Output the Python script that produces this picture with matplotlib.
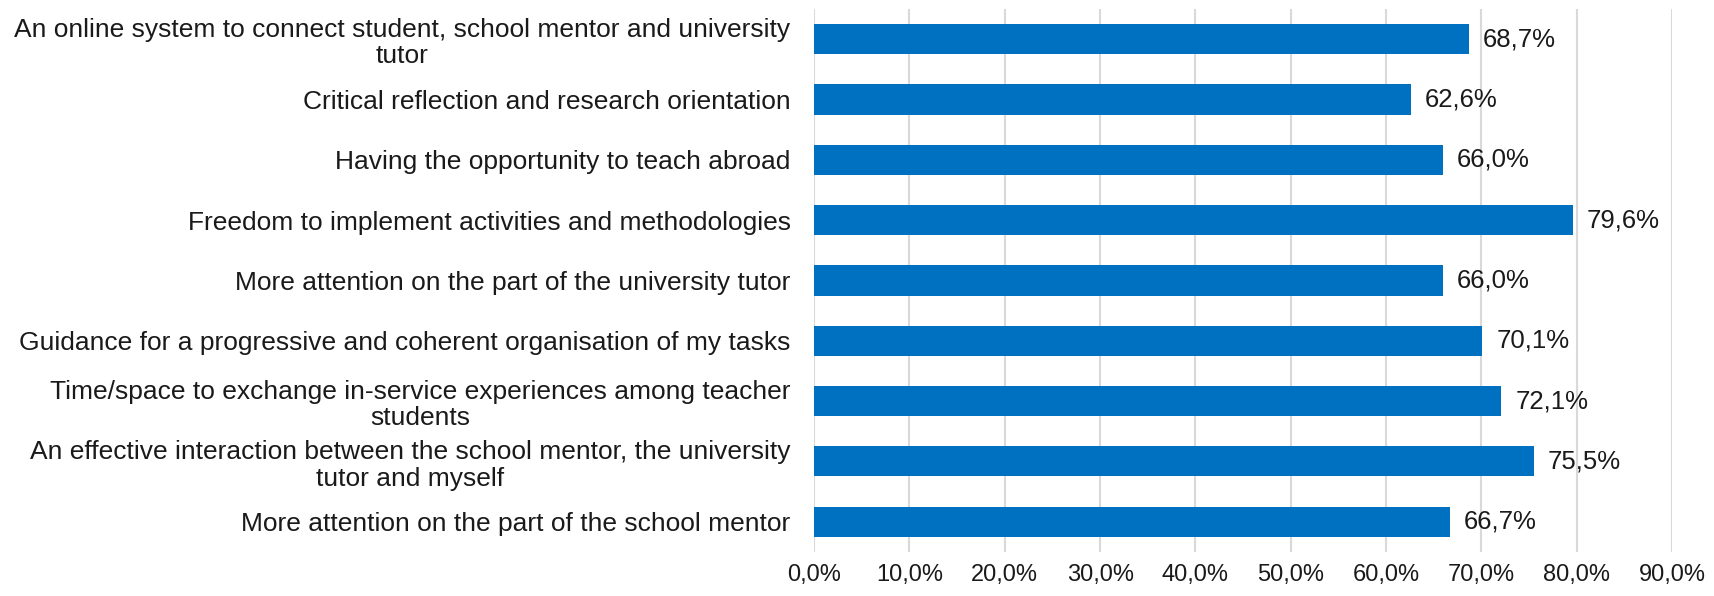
import numpy as np
import matplotlib.pyplot as plt
from matplotlib.ticker import FuncFormatter

# categories listed top to bottom as in the chart
categories = [
    "An online system to connect student, school mentor and university\ntutor",
    "Critical reflection and research orientation",
    "Having the opportunity to teach abroad",
    "Freedom to implement activities and methodologies",
    "More attention on the part of the university tutor",
    "Guidance for a progressive and coherent organisation of my tasks",
    "Time/space to exchange in-service experiences among teacher\nstudents",
    "An effective interaction between the school mentor, the university\ntutor and myself",
    "More attention on the part of the school mentor",
]
values = [68.7, 62.6, 66.0, 79.6, 66.0, 70.1, 72.1, 75.5, 66.7]
xticks = [0, 10, 20, 30, 40, 50, 60, 70, 80, 90]

plt.rcParams['font.family'] = ['Liberation Sans', 'DejaVu Sans']

fig = plt.figure(figsize=(17.14, 5.96), dpi=100, facecolor='white')
ax = fig.add_axes([0.475, 0.074, 0.5005, 0.911])

ypos = np.arange(len(categories))
bars = ax.barh(ypos, values, height=0.5, color='#0070C0', zorder=3)

for b, v in zip(bars, values):
    ax.annotate(f"{v:.1f}%".replace('.', ','),
                xy=(b.get_width(), b.get_y() + b.get_height() / 2),
                xytext=(10, 0), textcoords='offset points',
                ha='left', va='center', fontsize=18.5, color='#1a1a1a')

ax.set_ylim(len(categories) - 0.5, -0.5)
ax.set_yticks(ypos)
ax.set_yticklabels(categories, fontsize=19, color='#1a1a1a',
                   multialignment='center', linespacing=1.15)
ax.set_xlim(0, 90)
ax.set_xticks(xticks)
ax.xaxis.set_major_formatter(FuncFormatter(lambda x, p: f"{x:.1f}%".replace('.', ',')))
ax.tick_params(axis='x', labelsize=17, colors='#1a1a1a', length=0, pad=9)
ax.tick_params(axis='y', length=0, pad=17)

ax.grid(axis='x', color='#d9d9d9', linewidth=1.5, zorder=0)
for s in ax.spines.values():
    s.set_visible(False)

plt.savefig('out.png', dpi=100)
